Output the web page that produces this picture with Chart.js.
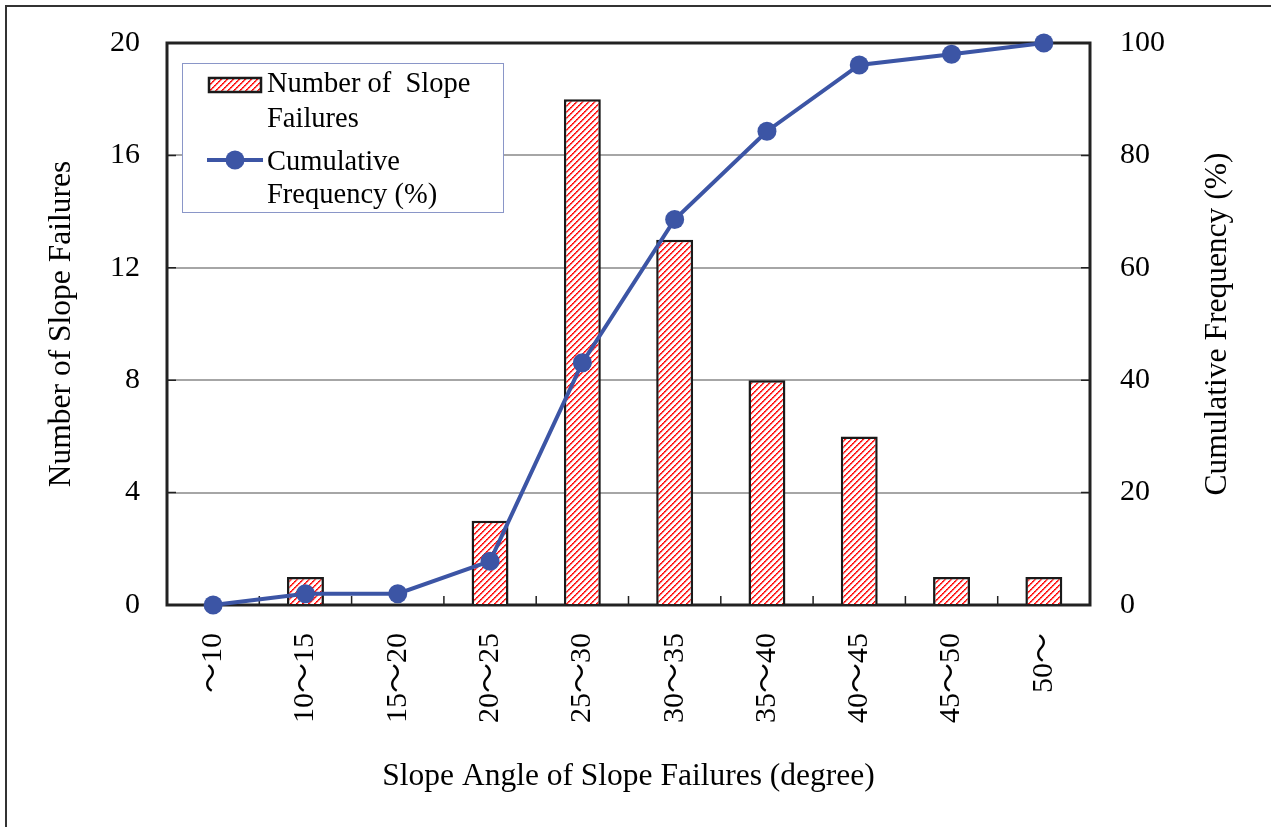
<!DOCTYPE html>
<html>
<head>
<meta charset="utf-8">
<script src="https://cdn.jsdelivr.net/npm/chart.js@4.4.1/dist/chart.umd.min.js"></script>
<style>
  html, body { margin: 0; padding: 0; background: #fff; }
  #wrap { width: 1271px; height: 827px; }
</style>
</head>
<body>
<div id="wrap"><canvas id="chart" width="1271" height="827"></canvas></div>
<script>
// slope angle classes (degree)
const categories = ['～10', '10～15', '15～20', '20～25', '25～30', '30～35', '35～40', '40～45', '45～50', '50～'];
const failureCounts = [0, 1, 0, 3, 18, 13, 8, 6, 1, 1];
const cumulativeFreq = [0, 2.0, 2.0, 7.8, 43.1, 68.6, 84.3, 96.1, 98.0, 100];
const leftTicks = [0, 4, 8, 12, 16, 20];
const rightTicks = [0, 20, 40, 60, 80, 100];

const SERIF = '"Liberation Serif", "Times New Roman", "Noto Sans CJK JP", serif';
const BLUE = '#3c55a5';

// red dotted diagonal hatch used for the bars
function makeHatch() {
    const c = document.createElement('canvas');
    c.width = 6;
    c.height = 6;
    const g = c.getContext('2d');
    g.fillStyle = '#fff';
    g.fillRect(0, 0, 6, 6);
    for (let i = 0; i < 6; i++) {
        g.fillStyle = i % 2 ? '#ff3a3a' : '#ff0000';
        g.fillRect(i, 5 - i, 1, 1);
        g.fillStyle = i % 2 ? '#ff5050' : '#ff2020';
        g.fillRect((i + 1) % 6, 5 - i, 1, 1);
        g.fillStyle = '#ffc4c4';
        g.fillRect((i + 2) % 6, 5 - i, 1, 1);
    }
    return g.createPattern(c, 'repeat');
}
const hatch = makeHatch();

const extras = {
    id: 'extras',
    beforeDraw(chart) {
        const ctx = chart.ctx;
        ctx.save();
        ctx.strokeStyle = '#333';
        ctx.lineWidth = 2;
        ctx.beginPath();
        ctx.moveTo(6, chart.height);
        ctx.lineTo(6, 6);
        ctx.lineTo(chart.width, 6);
        ctx.stroke();
        ctx.restore();
    },
    beforeDatasetsDraw(chart) {
        const {ctx, chartArea: a, scales} = chart;
        ctx.save();
        ctx.strokeStyle = '#222';
        ctx.lineWidth = 1.5;
        ctx.beginPath();
        leftTicks.forEach(v => {
            const y = scales.y.getPixelForValue(v);
            ctx.moveTo(a.left, y);
            ctx.lineTo(a.left + 9, y);
        });
        rightTicks.forEach(v => {
            const y = scales.y2.getPixelForValue(v);
            ctx.moveTo(a.right, y);
            ctx.lineTo(a.right - 9, y);
        });
        for (let i = 1; i < categories.length; i++) {
            const x = (scales.x.getPixelForValue(i - 1) + scales.x.getPixelForValue(i)) / 2;
            ctx.moveTo(x, a.bottom);
            ctx.lineTo(x, a.bottom - 9);
        }
        ctx.stroke();
        // plot frame
        ctx.lineWidth = 3;
        ctx.strokeRect(a.left, a.top, a.right - a.left, a.bottom - a.top);
        ctx.restore();
    },
    afterDraw(chart) {
        const {ctx, chartArea: a, scales} = chart;
        ctx.save();
        // right axis title, reading bottom to top
        ctx.fillStyle = '#000';
        ctx.font = '31.5px ' + SERIF;
        ctx.textAlign = 'center';
        ctx.textBaseline = 'middle';
        ctx.translate(scales.y2.left + 128, (a.top + a.bottom) / 2);
        ctx.rotate(-Math.PI / 2);
        ctx.fillText('Cumulative Frequency (%)', 0, 0);
        ctx.restore();

        // legend
        ctx.save();
        const lx = a.left + 15, ly = a.top + 20;
        ctx.fillStyle = '#fff';
        ctx.fillRect(lx, ly, 321, 149);
        ctx.strokeStyle = '#8a96c8';
        ctx.lineWidth = 1;
        ctx.strokeRect(lx + 0.5, ly + 0.5, 321, 149);

        ctx.fillStyle = hatch;
        ctx.fillRect(lx + 27, ly + 15, 52, 14);
        ctx.strokeStyle = '#1a1a1a';
        ctx.lineWidth = 2.5;
        ctx.strokeRect(lx + 27, ly + 15, 52, 14);

        ctx.strokeStyle = BLUE;
        ctx.lineWidth = 4;
        ctx.beginPath();
        ctx.moveTo(lx + 25, ly + 97);
        ctx.lineTo(lx + 81, ly + 97);
        ctx.stroke();
        ctx.fillStyle = BLUE;
        ctx.beginPath();
        ctx.arc(lx + 53, ly + 97, 9.5, 0, Math.PI * 2);
        ctx.fill();

        ctx.fillStyle = '#000';
        ctx.font = '28.5px ' + SERIF;
        ctx.textBaseline = 'alphabetic';
        ctx.fillText('Number of  Slope', lx + 85, ly + 29);
        ctx.fillText('Failures', lx + 85, ly + 64);
        ctx.fillText('Cumulative', lx + 85, ly + 107);
        ctx.fillText('Frequency (%)', lx + 85, ly + 140);
        ctx.restore();
    }
};

function noEdgePadding(scale) {
    scale.paddingTop = 0;
    scale.paddingBottom = 0;
    scale.paddingLeft = 0;
    scale.paddingRight = 0;
}

const ctx = document.getElementById('chart').getContext('2d');
new Chart(ctx, {
    data: {
        labels: categories,
        datasets: [
            {
                type: 'line',
                label: 'Cumulative Frequency (%)',
                data: cumulativeFreq,
                yAxisID: 'y2',
                borderColor: BLUE,
                backgroundColor: BLUE,
                borderWidth: 4,
                pointRadius: 9.5,
                pointBorderWidth: 0,
                pointBackgroundColor: BLUE,
                tension: 0,
                clip: false,
                order: 0
            },
            {
                type: 'bar',
                label: 'Number of  Slope Failures',
                data: failureCounts,
                yAxisID: 'y',
                backgroundColor: hatch,
                borderColor: '#1a1a1a',
                borderWidth: 2.5,
                barPercentage: 0.4,
                categoryPercentage: 1,
                order: 1
            }
        ]
    },
    options: {
        responsive: false,
        animation: false,
        layout: { padding: { top: 43, left: 43, right: 0, bottom: 31 } },
        plugins: {
            legend: { display: false },
            tooltip: { enabled: false }
        },
        scales: {
            x: {
                offset: true,
                grid: { display: false },
                border: { display: false },
                ticks: {
                    color: '#000',
                    font: { family: SERIF, size: 30 },
                    minRotation: 90,
                    maxRotation: 90,
                    padding: 20,
                    autoSkip: false
                },
                title: {
                    display: true,
                    text: 'Slope Angle of Slope Failures (degree)',
                    color: '#000',
                    font: { family: SERIF, size: 31.5 },
                    padding: 0
                },
                afterFit(scale) { scale.height = 191; noEdgePadding(scale); }
            },
            y: {
                position: 'left',
                min: 0,
                max: 20,
                afterBuildTicks(scale) { scale.ticks = leftTicks.map(v => ({ value: v })); },
                grid: { color: '#a6a6a6', lineWidth: 2, drawTicks: false },
                border: { display: false },
                ticks: {
                    color: '#000',
                    font: { family: SERIF, size: 30 },
                    padding: 27
                },
                title: {
                    display: true,
                    text: 'Number of Slope Failures',
                    color: '#000',
                    font: { family: SERIF, size: 31.5 },
                    padding: 0
                },
                afterFit(scale) { scale.width = 124; noEdgePadding(scale); }
            },
            y2: {
                position: 'right',
                min: 0,
                max: 100,
                afterBuildTicks(scale) { scale.ticks = rightTicks.map(v => ({ value: v })); },
                grid: { drawOnChartArea: false, drawTicks: false },
                border: { display: false },
                ticks: {
                    color: '#000',
                    font: { family: SERIF, size: 30 },
                    padding: 30
                },
                afterFit(scale) { scale.width = 181; noEdgePadding(scale); }
            }
        }
    },
    plugins: [extras]
});
</script>
</body>
</html>
